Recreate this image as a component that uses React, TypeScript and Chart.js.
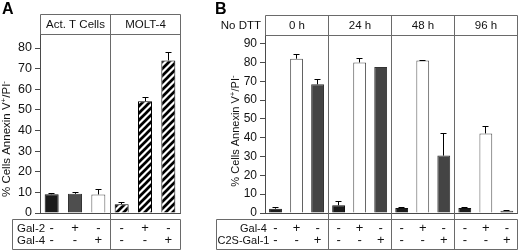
import React, { useEffect, useRef } from 'react';
import { Chart, registerables } from 'chart.js';

Chart.register(...registerables);

const FONT = '"Liberation Sans", Arial, Helvetica, sans-serif';

// ---------- Panel A data ----------
const groupsA = ['Act. T Cells', 'MOLT-4'];
const rowLabelsA = ['Gal-2', 'Gal-4'];
const gal2A = ['-', '+', '-', '-', '+', '-'];
const gal4A = ['-', '-', '+', '-', '-', '+'];
const valuesA = [9.1, 9.3, 9.0, 4.3, 54.2, 74.0];
const errorsA = [0.3, 0.4, 2.4, 0.7, 1.7, 3.6];

// ---------- Panel B data ----------
const groupsB = ['0 h', '24 h', '48 h', '96 h'];
const cornerLabelB = 'No DTT';
const rowLabelsB = ['Gal-4', 'C2S-Gal-1'];
const gal4B = ['-', '+', '-', '-', '+', '-', '-', '+', '-', '-', '+', '-'];
const c2sB = ['-', '-', '+', '-', '-', '+', '-', '-', '+', '-', '-', '+'];
const valuesB = [2.3, 82.0, 68.4, 4.1, 80.0, 77.6, 2.6, 81.0, 30.5, 2.6, 42.3, 1.2];
const errorsB = [0.5, 2.1, 2.8, 2.2, 2.3, 0, 0.3, 0.3, 11.7, 0.3, 3.8, 0.2];

const yTitleParts = [
  { t: '% Cells Annexin V', sup: false },
  { t: '+', sup: true },
  { t: '/PI', sup: false },
  { t: '-', sup: true },
];

const FRAME = '#6a6a6a';
const AXIS = '#4a4a4a';
const TEXT = '#111111';

type PanelCfg = {
  letter: string;
  letterX: number;
  groups: string[];
  groupSize: number;
  rowLabels: { text: string; x: number; y: number }[];
  rowSize: number;
  corner?: { text: string; x: number };
  headerTop: number;
  tableTop: number;
  tableBottom: number;
  tableLeft: number;
  titleX: number;
  titleY: number;
  titleSize: number;
  textSize: number;
  values: number[];
  errors: number[];
};

const al = (v: number) => Math.round(v - 0.5) + 0.5;

function framePlugin(cfg: PanelCfg) {
  return {
    id: 'frame' + cfg.letter,
    afterDatasetsDraw(chart: any) {
      const { ctx } = chart;
      const xs = chart.scales.x;
      const ys = chart.scales.y;
      ctx.save();
      ctx.strokeStyle = '#000';
      ctx.lineWidth = 1;
      cfg.values.forEach((v, i) => {
        const e = cfg.errors[i];
        if (!e) return;
        const px = al(xs.getPixelForValue(i));
        const y0 = ys.getPixelForValue(v);
        const y1 = al(ys.getPixelForValue(v + e));
        ctx.beginPath();
        ctx.moveTo(px, y0);
        ctx.lineTo(px, y1);
        ctx.moveTo(px - 3, y1);
        ctx.lineTo(px + 3, y1);
        ctx.stroke();
      });
      ctx.restore();
    },
    afterDraw(chart: any) {
      const { ctx, chartArea: ca } = chart;
      const xs = chart.scales.x;
      const L = al(ca.left);
      const R = al(ca.right);
      const T = al(ca.top);
      const B = al(ca.bottom);
      const ht = cfg.headerTop;
      const tt = cfg.tableTop;
      const tb = cfg.tableBottom;
      const bounds: number[] = [L];
      for (let g = 1; g < cfg.groups.length; g++) {
        const i = g * cfg.groupSize;
        bounds.push(al((xs.getPixelForValue(i - 1) + xs.getPixelForValue(i)) / 2));
      }
      bounds.push(R);

      ctx.save();
      ctx.strokeStyle = FRAME;
      ctx.lineWidth = 1;
      ctx.beginPath();
      ctx.moveTo(L, ht);
      ctx.lineTo(R, ht);
      ctx.moveTo(L, T);
      ctx.lineTo(R, T);
      ctx.moveTo(L, ht);
      ctx.lineTo(L, T);
      ctx.moveTo(R, ht);
      ctx.lineTo(R, B);
      for (let k = 1; k < bounds.length - 1; k++) {
        ctx.moveTo(bounds[k], ht);
        ctx.lineTo(bounds[k], tb);
      }
      ctx.rect(cfg.tableLeft, tt, R - cfg.tableLeft, tb - tt);
      ctx.stroke();

      ctx.fillStyle = TEXT;
      ctx.font = `${cfg.textSize}px ${FONT}`;
      ctx.textAlign = 'center';
      ctx.textBaseline = 'middle';
      cfg.groups.forEach((g, k) => {
        ctx.fillText(g, (bounds[k] + bounds[k + 1]) / 2, (ht + T) / 2 + 0.5);
      });
      if (cfg.corner) {
        ctx.textAlign = 'right';
        ctx.fillText(cfg.corner.text, cfg.corner.x, (ht + T) / 2 + 0.5);
      }
      ctx.textAlign = 'left';
      ctx.font = `${cfg.rowSize}px ${FONT}`;
      cfg.rowLabels.forEach((r) => ctx.fillText(r.text, r.x, r.y));

      // y title with superscripts
      ctx.save();
      ctx.translate(cfg.titleX, cfg.titleY);
      ctx.rotate(-Math.PI / 2);
      const big = `${cfg.titleSize}px ${FONT}`;
      const small = `${Math.round(cfg.titleSize * 0.72)}px ${FONT}`;
      let total = 0;
      yTitleParts.forEach((p) => {
        ctx.font = p.sup ? small : big;
        total += ctx.measureText(p.t).width;
      });
      let cx = -total / 2;
      ctx.textAlign = 'left';
      ctx.textBaseline = 'middle';
      yTitleParts.forEach((p) => {
        ctx.font = p.sup ? small : big;
        ctx.fillText(p.t, cx, p.sup ? -3.5 : 0);
        cx += ctx.measureText(p.t).width;
      });
      ctx.restore();

      ctx.font = `bold 16px ${FONT}`;
      ctx.textAlign = 'left';
      ctx.textBaseline = 'top';
      ctx.fillStyle = '#000';
      ctx.fillText(cfg.letter, cfg.letterX, 2);
      ctx.restore();
    },
  };
}

function makeHatch(): CanvasPattern | string {
  const s = 7;
  const c = document.createElement('canvas');
  c.width = s;
  c.height = s;
  const g = c.getContext('2d');
  if (!g) return '#000';
  g.fillStyle = '#fff';
  g.fillRect(0, 0, s, s);
  g.strokeStyle = '#000';
  g.lineWidth = 2.7;
  g.beginPath();
  g.moveTo(-2, 2);
  g.lineTo(2, -2);
  g.moveTo(-1, s + 1);
  g.lineTo(s + 1, -1);
  g.moveTo(s - 2, s + 2);
  g.lineTo(s + 2, s - 2);
  g.stroke();
  return g.createPattern(c, 'repeat') || '#000';
}

type BuildOpts = {
  labels: string[][];
  values: number[];
  fills: any[];
  borders: string[];
  barPct: number;
  yMax: number;
  padTop: number;
  padRight: number;
  yWidth: number;
  tickSize: number;
  cfg: PanelCfg;
};

function build(canvas: HTMLCanvasElement, o: BuildOpts) {
  return new Chart(canvas, {
    type: 'bar',
    data: {
      labels: o.labels,
      datasets: [
        {
          data: o.values,
          backgroundColor: o.fills,
          borderColor: o.borders,
          borderWidth: 1,
          barPercentage: o.barPct,
          categoryPercentage: 1,
        },
      ],
    },
    options: {
      responsive: false,
      animation: false,
      devicePixelRatio: 1,
      layout: { padding: { top: o.padTop, right: o.padRight, left: 0, bottom: 0 } },
      plugins: {
        legend: { display: false },
        tooltip: { enabled: false },
        title: { display: false },
      },
      scales: {
        x: {
          grid: { display: true, drawOnChartArea: false, drawTicks: false },
          border: { display: true, color: AXIS },
          ticks: {
            autoSkip: false,
            maxRotation: 0,
            minRotation: 0,
            color: TEXT,
            padding: 9.3,
            font: { family: FONT, size: 13, lineHeight: 0.95 },
          },
          afterFit: (s: any) => {
            s.height = 37;
          },
        },
        y: {
          min: 0,
          max: o.yMax,
          grid: { drawOnChartArea: false, drawTicks: true, tickLength: 5, color: AXIS },
          border: { display: true, color: AXIS },
          ticks: {
            stepSize: 10,
            includeBounds: false,
            color: TEXT,
            padding: 3,
            font: { family: FONT, size: o.tickSize },
          },
          afterFit: (s: any) => {
            s.width = o.yWidth;
          },
        },
      },
    } as any,
    plugins: [framePlugin(o.cfg)],
  });
}

export default function App() {
  const refA = useRef<HTMLCanvasElement>(null);
  const refB = useRef<HTMLCanvasElement>(null);

  useEffect(() => {
    if (!refA.current || !refB.current) return;
    const hatch = makeHatch();
    const chA = build(refA.current, {
      labels: gal2A.map((g, i) => [g, gal4A[i]]),
      values: valuesA,
      fills: ['#1b1b1b', '#4e4e4e', '#ffffff', hatch, hatch, hatch],
      borders: ['#111111', '#333333', '#555555', '#000000', '#000000', '#000000'],
      barPct: 0.6,
      yMax: 86.8,
      padTop: 34,
      padRight: 20,
      yWidth: 40,
      tickSize: 12.5,
      cfg: {
        letter: 'A',
        letterX: 2,
        groups: groupsA,
        groupSize: 3,
        rowLabels: [
          { text: rowLabelsA[0], x: 17, y: 228.5 },
          { text: rowLabelsA[1], x: 17, y: 240.8 },
        ],
        rowSize: 11.5,
        headerTop: 14.5,
        tableTop: 219.5,
        tableBottom: 249.5,
        tableLeft: 12.5,
        titleX: 7,
        titleY: 139,
        titleSize: 11.5,
        textSize: 11.5,
        values: valuesA,
        errors: errorsA,
      },
    });
    const chB = build(refB.current, {
      labels: gal4B.map((g, i) => [g, c2sB[i]]),
      values: valuesB,
      fills: valuesB.map((_, i) => ['#1b1b1b', '#ffffff', '#444444'][i % 3]),
      borders: valuesB.map((_, i) => ['#111111', '#555555', '#333333'][i % 3]),
      barPct: 0.61,
      yMax: 94.6,
      padTop: 35,
      padRight: 1,
      yWidth: 65,
      tickSize: 12,
      cfg: {
        letter: 'B',
        letterX: 15,
        groups: groupsB,
        groupSize: 3,
        corner: { text: cornerLabelB, x: 61 },
        rowLabels: [
          { text: rowLabelsB[0], x: 40, y: 229 },
          { text: rowLabelsB[1], x: 17.5, y: 241 },
        ],
        rowSize: 11,
        headerTop: 15.5,
        tableTop: 219.5,
        tableBottom: 249.5,
        tableLeft: 16.5,
        titleX: 36,
        titleY: 131,
        titleSize: 11,
        textSize: 11.5,
        values: valuesB,
        errors: errorsB,
      },
    });
    return () => {
      chA.destroy();
      chB.destroy();
    };
  }, []);

  return (
    <div style={{ position: 'fixed', left: 0, top: 0, width: 520, height: 250, background: '#fff' }}>
      <canvas
        ref={refA}
        width={200}
        height={250}
        style={{ position: 'absolute', left: 0, top: 0, width: 200, height: 250 }}
      />
      <canvas
        ref={refB}
        width={320}
        height={250}
        style={{ position: 'absolute', left: 200, top: 0, width: 320, height: 250 }}
      />
    </div>
  );
}
